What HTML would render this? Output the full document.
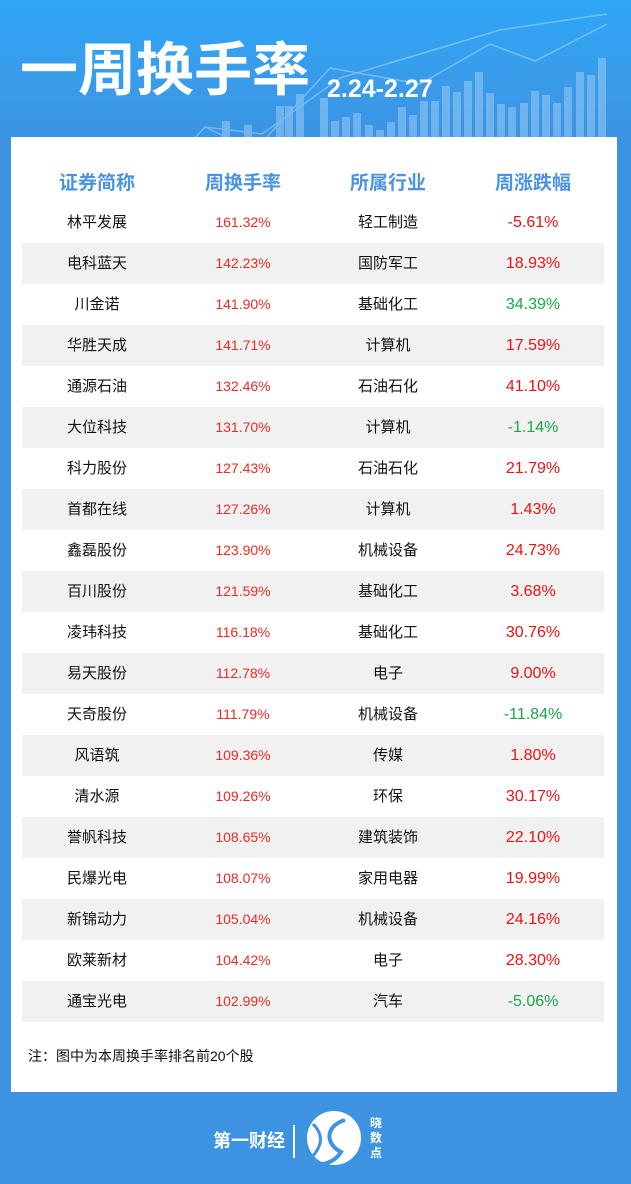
<!DOCTYPE html>
<html><head><meta charset="utf-8"><style>
*{margin:0;padding:0;box-sizing:border-box}
body{width:631px;height:1184px;overflow:hidden;background:#3b93e2;font-family:"Liberation Sans","Noto Sans CJK SC",sans-serif;position:relative}
.hdr{position:absolute;left:0;top:0;width:631px;height:140px;background:linear-gradient(180deg,#2ea6f5 0%,#3a9bea 60%,#3b93e2 100%)}
.title{position:absolute;left:20px;top:36px;color:#fff;font-size:58px;font-weight:bold;letter-spacing:0;line-height:70px}
.date{position:absolute;left:327px;top:75px;color:#fff;font-size:25px;font-weight:bold}
.panel{position:absolute;left:11px;top:137px;width:606px;height:955px;background:#fff}
.th{position:absolute;top:168px;width:150px;text-align:center;color:#4a93e0;font-size:19px;font-weight:bold}
.row{position:absolute;left:22px;width:582px;height:41px}
.row.s{background:#f1f1f1}
.c{position:absolute;top:0;height:41px;line-height:41px;text-align:center;width:150px;font-size:15px;color:#111}
.t{color:#ee2a24;font-size:14px}
.p{color:#ee1111;font-size:16px}
.g{color:#17a84a;font-size:16px}
.note{position:absolute;left:28px;top:1046px;font-size:14px;color:#111}
.logo{position:absolute;color:#fff}
</style></head><body>
<div class="hdr">
<svg width="631" height="140" style="position:absolute;left:0;top:0" opacity="0.35">
<g fill="#cfe9ff">
<rect x="222" y="121" width="8" height="19"/><rect x="244" y="125" width="8" height="15"/><rect x="276" y="106" width="8" height="34"/><rect x="285" y="106" width="8" height="34"/><rect x="296" y="94" width="8" height="46"/><rect x="320" y="98" width="8" height="42"/><rect x="331" y="121" width="8" height="19"/><rect x="342" y="117" width="8" height="23"/><rect x="353" y="113" width="8" height="27"/><rect x="365" y="125" width="8" height="15"/><rect x="376" y="130" width="8" height="10"/><rect x="387" y="122" width="8" height="18"/><rect x="398" y="107" width="8" height="33"/><rect x="409" y="115" width="8" height="25"/><rect x="420" y="101" width="8" height="39"/><rect x="431" y="101" width="8" height="39"/><rect x="442" y="86" width="8" height="54"/><rect x="453" y="92" width="8" height="48"/><rect x="464" y="81" width="8" height="59"/><rect x="475" y="72" width="8" height="68"/><rect x="486" y="93" width="8" height="47"/><rect x="497" y="104" width="8" height="36"/><rect x="508" y="107" width="8" height="33"/><rect x="520" y="103" width="8" height="37"/><rect x="531" y="91" width="8" height="49"/><rect x="542" y="95" width="8" height="45"/><rect x="553" y="103" width="8" height="37"/><rect x="564" y="87" width="8" height="53"/><rect x="576" y="72" width="8" height="68"/><rect x="587" y="75" width="8" height="65"/><rect x="598" y="58" width="8" height="82"/></g>
<polyline points="170,165 205,127 254,151 330,68 420,84 490,44 535,61 607,24" fill="none" stroke="#dff" stroke-width="1.5"/>
<polyline points="205,127 262,134 340,78 500,30 607,14" fill="none" stroke="#dff" stroke-width="1.5"/>
</svg>
<div class="title">一周换手率</div>
<div class="date">2.24-2.27</div>
</div>
<div class="panel"></div>
<div class="th" style="left:22px">证券简称</div>
<div class="th" style="left:168px">周换手率</div>
<div class="th" style="left:313px">所属行业</div>
<div class="th" style="left:458px">周涨跌幅</div>

<div class="row" style="top:202px"><div class="c" style="left:0">林平发展</div><div class="c t" style="left:146px">161.32%</div><div class="c" style="left:291px">轻工制造</div><div class="c p" style="left:436px">-5.61%</div></div>
<div class="row s" style="top:243px"><div class="c" style="left:0">电科蓝天</div><div class="c t" style="left:146px">142.23%</div><div class="c" style="left:291px">国防军工</div><div class="c p" style="left:436px">18.93%</div></div>
<div class="row" style="top:284px"><div class="c" style="left:0">川金诺</div><div class="c t" style="left:146px">141.90%</div><div class="c" style="left:291px">基础化工</div><div class="c g" style="left:436px">34.39%</div></div>
<div class="row s" style="top:325px"><div class="c" style="left:0">华胜天成</div><div class="c t" style="left:146px">141.71%</div><div class="c" style="left:291px">计算机</div><div class="c p" style="left:436px">17.59%</div></div>
<div class="row" style="top:366px"><div class="c" style="left:0">通源石油</div><div class="c t" style="left:146px">132.46%</div><div class="c" style="left:291px">石油石化</div><div class="c p" style="left:436px">41.10%</div></div>
<div class="row s" style="top:407px"><div class="c" style="left:0">大位科技</div><div class="c t" style="left:146px">131.70%</div><div class="c" style="left:291px">计算机</div><div class="c g" style="left:436px">-1.14%</div></div>
<div class="row" style="top:448px"><div class="c" style="left:0">科力股份</div><div class="c t" style="left:146px">127.43%</div><div class="c" style="left:291px">石油石化</div><div class="c p" style="left:436px">21.79%</div></div>
<div class="row s" style="top:489px"><div class="c" style="left:0">首都在线</div><div class="c t" style="left:146px">127.26%</div><div class="c" style="left:291px">计算机</div><div class="c p" style="left:436px">1.43%</div></div>
<div class="row" style="top:530px"><div class="c" style="left:0">鑫磊股份</div><div class="c t" style="left:146px">123.90%</div><div class="c" style="left:291px">机械设备</div><div class="c p" style="left:436px">24.73%</div></div>
<div class="row s" style="top:571px"><div class="c" style="left:0">百川股份</div><div class="c t" style="left:146px">121.59%</div><div class="c" style="left:291px">基础化工</div><div class="c p" style="left:436px">3.68%</div></div>
<div class="row" style="top:612px"><div class="c" style="left:0">凌玮科技</div><div class="c t" style="left:146px">116.18%</div><div class="c" style="left:291px">基础化工</div><div class="c p" style="left:436px">30.76%</div></div>
<div class="row s" style="top:653px"><div class="c" style="left:0">易天股份</div><div class="c t" style="left:146px">112.78%</div><div class="c" style="left:291px">电子</div><div class="c p" style="left:436px">9.00%</div></div>
<div class="row" style="top:694px"><div class="c" style="left:0">天奇股份</div><div class="c t" style="left:146px">111.79%</div><div class="c" style="left:291px">机械设备</div><div class="c g" style="left:436px">-11.84%</div></div>
<div class="row s" style="top:735px"><div class="c" style="left:0">风语筑</div><div class="c t" style="left:146px">109.36%</div><div class="c" style="left:291px">传媒</div><div class="c p" style="left:436px">1.80%</div></div>
<div class="row" style="top:776px"><div class="c" style="left:0">清水源</div><div class="c t" style="left:146px">109.26%</div><div class="c" style="left:291px">环保</div><div class="c p" style="left:436px">30.17%</div></div>
<div class="row s" style="top:817px"><div class="c" style="left:0">誉帆科技</div><div class="c t" style="left:146px">108.65%</div><div class="c" style="left:291px">建筑装饰</div><div class="c p" style="left:436px">22.10%</div></div>
<div class="row" style="top:858px"><div class="c" style="left:0">民爆光电</div><div class="c t" style="left:146px">108.07%</div><div class="c" style="left:291px">家用电器</div><div class="c p" style="left:436px">19.99%</div></div>
<div class="row s" style="top:899px"><div class="c" style="left:0">新锦动力</div><div class="c t" style="left:146px">105.04%</div><div class="c" style="left:291px">机械设备</div><div class="c p" style="left:436px">24.16%</div></div>
<div class="row" style="top:940px"><div class="c" style="left:0">欧莱新材</div><div class="c t" style="left:146px">104.42%</div><div class="c" style="left:291px">电子</div><div class="c p" style="left:436px">28.30%</div></div>
<div class="row s" style="top:981px"><div class="c" style="left:0">通宝光电</div><div class="c t" style="left:146px">102.99%</div><div class="c" style="left:291px">汽车</div><div class="c g" style="left:436px">-5.06%</div></div>

<div class="note">注：图中为本周换手率排名前20个股</div>

<div class="logo" style="left:213px;top:1127px;font-size:18px;font-weight:bold">第一财经</div>
<div style="position:absolute;left:293px;top:1125px;width:2px;height:33px;background:#fff"></div>
<svg style="position:absolute;left:305px;top:1108px" width="58" height="60"><circle cx="29" cy="30" r="27" fill="#fff"/><path d="M40 12 C20 18 20 36 36 44 C30 54 20 56 10 58" stroke="#3b93e2" stroke-width="4" fill="none"/><path d="M8 16 C18 26 18 36 8 48" stroke="#3b93e2" stroke-width="3" fill="none"/></svg>
<div class="logo" style="left:370px;top:1116px;font-size:12px;line-height:15px;width:14px;font-weight:bold">晓数点</div>
</body></html>
